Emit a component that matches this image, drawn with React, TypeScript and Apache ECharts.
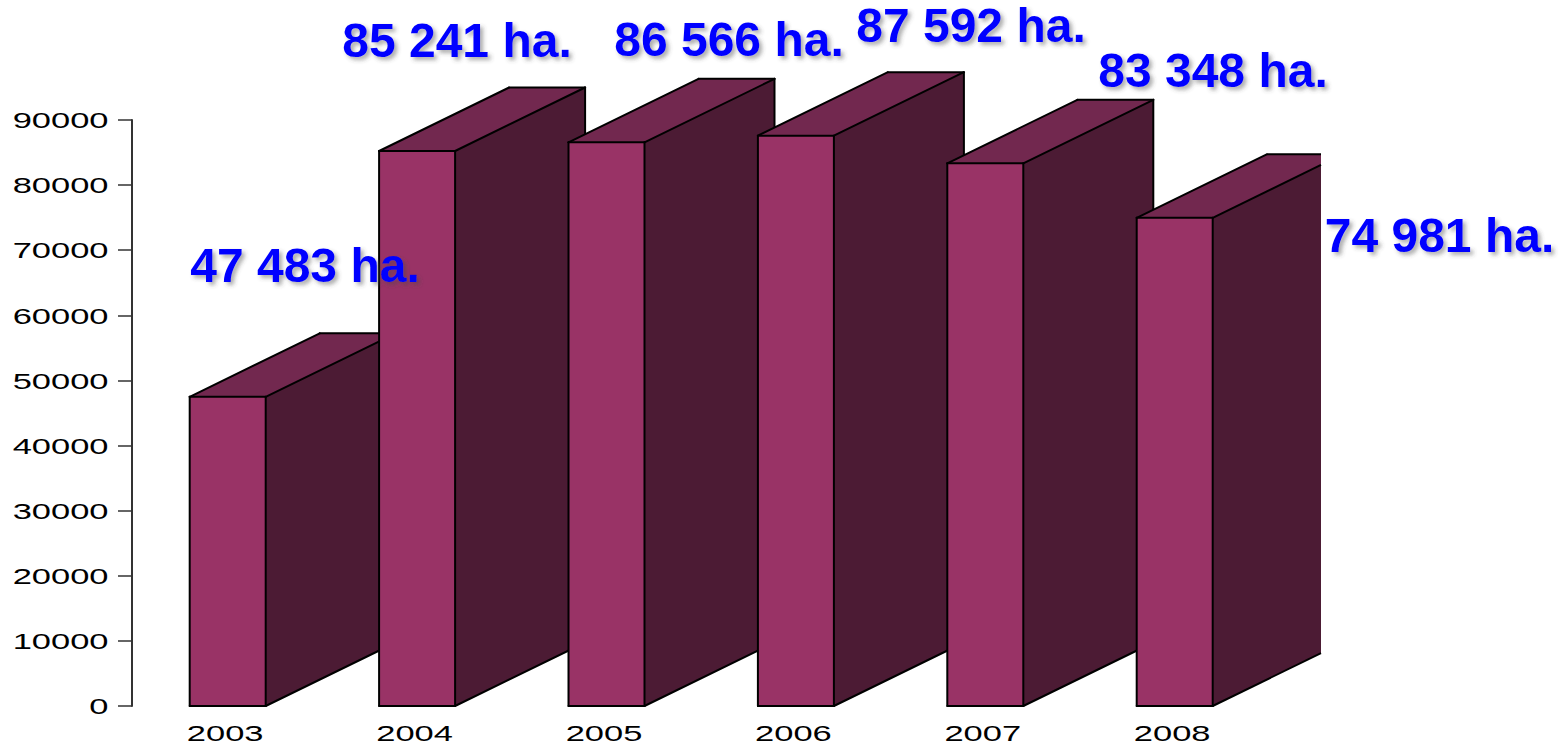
import React, { useEffect, useRef } from "react";
import * as echarts from "echarts";

const years = ["2003", "2004", "2005", "2006", "2007", "2008"];
const hectares = [47483, 85241, 86566, 87592, 83348, 74981];
const yTicks = [0, 10000, 20000, 30000, 40000, 50000, 60000, 70000, 80000, 90000];
const valueLabels = ["47 483 ha.", "85 241 ha.", "86 566 ha.", "87 592 ha.", "83 348 ha.", "74 981 ha."];

// layout only
const labelCentres = [[305, 265], [457, 40], [729, 39], [971, 25], [1213, 70], [1439.5, 235]];
const BAR_W = 76, DX = 130, DY = 63.5, CLIP_X = 1321;
const FRONT = "#993366", TOP = "#72284f", SIDE = "#4c1b34", FONT = "'Liberation Sans', Arial, sans-serif";

const clipPoly = (pts: number[][]) => {
  const out: number[][] = [];
  pts.forEach((p, i) => {
    const q = pts[(i + 1) % pts.length];
    if (p[0] <= CLIP_X) out.push(p);
    if ((p[0] <= CLIP_X) !== (q[0] <= CLIP_X)) {
      const t = (CLIP_X - p[0]) / (q[0] - p[0]);
      out.push([CLIP_X, p[1] + t * (q[1] - p[1])]);
    }
  });
  return out;
};
const seg = (a: number[], b: number[]) => {
  let [p, q] = a[0] <= b[0] ? [a, b] : [b, a];
  if (p[0] > CLIP_X) return null;
  let cap = "round";
  if (q[0] > CLIP_X) {
    const t = (CLIP_X - p[0]) / (q[0] - p[0]);
    q = [CLIP_X, p[1] + t * (q[1] - p[1])];
    cap = "butt";
  }
  return {
    type: "line",
    shape: { x1: p[0], y1: p[1], x2: q[0], y2: q[1] },
    style: { stroke: "#000", lineWidth: 2, lineCap: cap, fill: null },
  };
};

const renderBox = (_: any, api: any) => {
  const [cx, top] = api.coord([api.value(0), api.value(1)]);
  const [, base] = api.coord([api.value(0), 0]);
  const l = cx - BAR_W / 2, r = cx + BAR_W / 2;
  const backTL = [l + DX, top - DY], backTR = [r + DX, top - DY], backBR = [r + DX, base - DY];
  const face = (pts: number[][], fill: string) => ({
    type: "polygon",
    shape: { points: clipPoly(pts) },
    style: { fill, stroke: null },
  });
  const edges = [
    seg([l, top], backTL), seg(backTL, backTR), seg([r, top], backTR),
    seg(backTR, backBR), seg(backBR, [r, base]),
    seg([l, top], [r, top]), seg([r, top], [r, base]), seg([r, base], [l, base]), seg([l, base], [l, top]),
  ].filter(Boolean);
  return {
    type: "group",
    children: [
      face([[l, top], backTL, backTR, [r, top]], TOP),
      face([[r, top], backTR, backBR, [r, base]], SIDE),
      { type: "rect", shape: { x: l, y: top, width: BAR_W, height: base - top }, style: { fill: FRONT } },
      ...edges,
    ],
  };
};

const tickText = (text: string, x: number, y: number, align: string) => ({
  type: "text",
  x,
  y,
  scaleX: 1.5,
  style: { text, fill: "#000", font: `23px ${FONT}`, align, verticalAlign: "middle" },
});

export default function App() {
  const ref = useRef<HTMLDivElement>(null);
  useEffect(() => {
    document.body.style.margin = "0";
    const chart = echarts.init(ref.current!, null, { renderer: "svg" });
    chart.setOption({
      animation: false,
      backgroundColor: "#fff",
      grid: { left: 133, top: 120, width: 1136.4, height: 586 },
      xAxis: {
        type: "category",
        data: years,
        axisLine: { show: false },
        axisTick: { show: false },
        axisLabel: { show: false },
      },
      yAxis: {
        type: "value",
        min: 0,
        max: 90000,
        interval: 10000,
        offset: 1,
        splitLine: { show: false },
        axisLine: { show: true, lineStyle: { color: "#333", width: 2 } },
        axisTick: { show: true, length: 14, lineStyle: { color: "#333", width: 1.5 } },
        axisLabel: { show: false },
      },
      series: [
        {
          type: "custom",
          coordinateSystem: "cartesian2d",
          data: years.map((_, i) => [i, hectares[i]]),
          encode: { x: 0, y: 1 },
          renderItem: renderBox,
          z: 2,
        },
        {
          type: "custom",
          coordinateSystem: "cartesian2d",
          data: years.map((_, i) => [i, 0]),
          encode: { x: 0, y: 1 },
          renderItem: (p: any, api: any) => {
            const [x] = api.coord([api.value(0), 0]);
            return tickText(years[p.dataIndex], x - 2.5, 733, "center");
          },
          z: 3,
        },
        {
          type: "custom",
          coordinateSystem: "cartesian2d",
          data: yTicks.map((t) => [0, t]),
          encode: { x: 0, y: 1 },
          renderItem: (p: any, api: any) => {
            const [, y] = api.coord([0, api.value(1)]);
            return tickText(String(yTicks[p.dataIndex]), 108.5, y, "right");
          },
          z: 3,
        },
      ],
      graphic: valueLabels.map((text, i) => ({
        type: "text",
        x: labelCentres[i][0],
        y: labelCentres[i][1],
        z: 10,
        style: {
          text,
          fill: "#0000ff",
          font: `bold 48px ${FONT}`,
          align: "center",
          verticalAlign: "middle",
          textShadowColor: "rgba(70,70,70,0.45)",
          textShadowBlur: 4,
          textShadowOffsetX: 3,
          textShadowOffsetY: 3,
        },
      })),
    });
    return () => chart.dispose();
  }, []);
  return <div ref={ref} style={{ position: "fixed", left: 0, top: 0, width: 1568, height: 748 }} />;
}
